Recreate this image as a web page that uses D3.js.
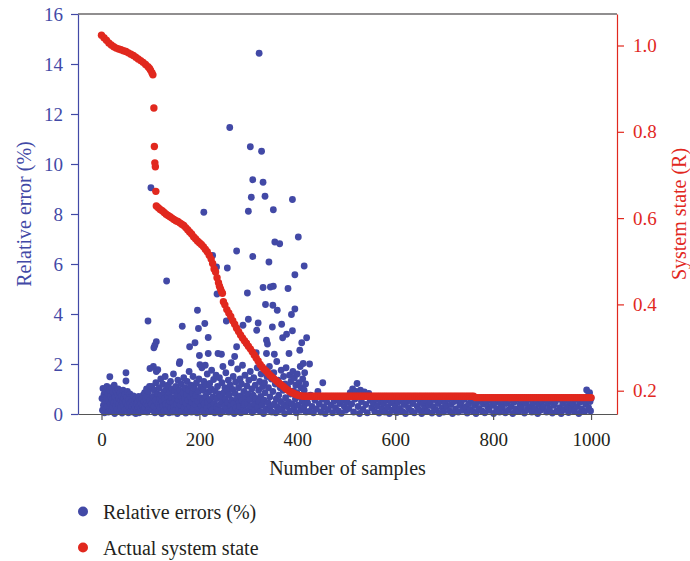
<!DOCTYPE html>
<html>
<head>
<meta charset="utf-8">
<script src="https://cdn.jsdelivr.net/npm/d3@7"></script>
<style>
  body { margin: 0; background: #fff; }
  text { font-family: "Liberation Serif", "DejaVu Serif", serif; }
</style>
</head>
<body>
<script>
const Width = 690;
const Height = 561;

const blue = '#4249a6';
const red = '#e1281e';
const ink = '#231f20';

// axis ticks
const xTicks = [0, 200, 400, 600, 800, 1000];
const errorTicks = [0, 2, 4, 6, 8, 10, 12, 14, 16];
const stateTicks = [0.2, 0.4, 0.6, 0.8, 1.0];
const legendLabels = ['Relative errors (%)', 'Actual system state'];

// relative errors (%), [sample, value]
const errorsEarly = [
  [1,0.62],[2,0.15],[3,1.02],[4,0.35],[5,0.78],[6,0.05],[7,0.48],[8,0.9],[9,0.22],[10,0.65],
  [11,1.1],[12,0.3],[13,0.82],[14,0.08],[15,0.55],[16,0.95],[17,1.49],[18,0.4],[19,0.7],[20,0.12],
  [21,1.05],[22,0.58],[23,0.28],[24,0.88],[25,0.45],[26,1.15],[27,0.02],[28,0.68],[29,0.33],[30,0.92],
  [31,0.5],[32,0.18],[33,0.75],[34,1.0],[35,0.38],[36,0.6],[37,0.1],[38,0.85],[39,0.26],[40,0.55],
  [41,0.72],[42,0.04],[43,0.42],[44,0.95],[45,0.3],[46,0.62],[47,0.15],[48,0.78],[49,0.48],[50,1.65],
  [50,1.32],[51,0.2],[52,0.68],[53,0.9],[54,0.35],[55,0.05],[56,0.58],[57,0.25],[58,0.8],[59,0.42],
  [60,0.12],[61,0.65],[62,0.3],[63,0.5],[64,0.08],[65,0.72],[66,0.38],[67,0.18],[68,0.55],[69,0.28],
  [70,0.02],[71,0.62],[72,0.4],[73,0.15],[74,0.48],[75,0.25],[76,0.7],[77,0.05],[78,0.35],[79,0.55],
  [80,0.2],[81,0.42],[82,0.1],[83,0.6],[84,0.3],[85,0.75],[86,0.15],[87,0.5],[88,0.85],[89,0.25],
  [90,0.62],[91,0.4],[92,1.0],[93,0.08],[94,0.7],[95,0.35],[96,0.9],[97,0.2],[98,1.1],[99,0.55],[100,0.3]
];

const errorsMid = [
  [102,0.4],[103,1.1],[104,0.15],[105,0.7],[106,1.9],[107,0.3],[108,0.95],[109,0.05],[110,0.55],[111,1.25],
  [113,0.2],[114,0.8],[115,1.77],[116,0.42],[117,0.1],[118,1.05],[119,0.6],[120,0.25],[121,1.4],[122,0.75],
  [123,0.02],[124,0.5],[125,1.2],[126,0.32],[127,0.88],[128,0.12],[129,0.62],[130,1.5],[131,0.4],[132,0.98],
  [134,0.18],[135,0.7],[136,1.15],[137,0.35],[138,0.05],[139,0.85],[140,0.5],[141,1.3],[142,0.22],[143,0.65],
  [144,1.0],[145,0.08],[146,0.45],[147,1.6],[148,0.28],[149,0.9],[150,0.6],[151,0.15],[152,1.1],[153,0.4],
  [154,0.75],[155,0.02],[156,1.35],[157,0.55],[158,0.2],[160,0.95],[161,0.35],[162,0.7],[163,1.2],[164,0.1],
  [166,0.5],[167,0.85],[168,1.45],[169,0.25],[170,0.62],[171,1.05],[172,0.04],[173,0.42],[174,0.78],[175,1.3],
  [176,0.18],[177,0.55],[178,0.95],[179,1.7],[181,0.3],[182,0.68],[183,1.15],[184,0.08],[185,0.45],[186,0.82],
  [187,1.5],[188,0.22],[189,0.6],[190,1.02],[192,0.38],[193,0.75],[194,1.25],[195,0.05],[197,0.5],[198,0.9],
  [199,1.4],[200,0.2],[202,0.65],[203,1.08],[204,0.32],[205,1.85],[206,0.12],[207,0.55],[208,0.95],[209,1.3],
  [210,0.4],[211,0.02],[213,0.72],[214,1.15],[215,0.25],[216,1.6],[217,0.48],[219,0.88],[220,0.1],[221,1.22],
  [222,0.58],[223,0.3],[224,1.0],[225,1.75],[226,0.15],[228,0.68],[229,1.38],[230,0.42],[231,0.05],[232,0.92],
  [234,1.55],[235,0.28],[236,0.62],[237,1.1],[239,0.18],[240,0.8],[241,1.45],[242,0.38],[243,0.02],[244,0.7],
  [246,1.25],[247,0.5],[248,1.9],[249,0.12],[250,0.85],[251,0.32],[252,1.05],[253,0.6],[254,1.65],[256,0.2],
  [257,0.95],[258,0.45],[259,1.35],[260,0.08],[261,0.75],[263,1.15],[264,0.35],[265,2.05],[266,0.55],[267,0.15],
  [268,0.98],[269,1.5],[270,0.4],[271,0.02],[273,0.82],[274,1.28],[275,0.25],[277,0.6],[278,1.8],[279,0.1],
  [280,1.05],[281,0.48],[282,0.3],[283,1.4],[284,0.72],[285,0.05],[286,1.2],[287,0.52],[288,1.95],[290,0.22],
  [291,0.9],[292,0.38],[293,1.55],[294,0.65],[295,0.12],[297,1.12],[298,0.45],[299,0.8],[301,1.35],[302,0.2],
  [303,0.58],[304,1.7],[305,0.3],[307,1.0],[308,0.06],[310,0.75],[311,1.45],[312,0.4],[313,0.15],[314,1.15],
  [315,0.62],[318,1.85],[319,0.28],[321,0.95],[322,0.5],[323,1.3],[324,0.1],[325,0.7],[326,1.6],[328,0.35],
  [329,1.1],[331,0.02],[332,0.55],[333,1.25],[334,0.85],[336,0.2],[338,1.5],[340,0.45],[341,1.05],[342,0.15],
  [343,1.9],[344,0.68],[346,0.32],[347,1.4],[348,0.08],[350,0.9],[352,1.65],[353,0.4],[355,1.2],[356,0.05],
  [357,0.6],[358,2.1],[359,0.28],[361,1.35],[362,0.75],[363,0.15],[365,1.05],[366,0.5],[367,1.75],[369,0.22],
  [371,0.95],[372,1.5],[373,0.38],[374,0.02],[375,1.2],[376,0.65],[377,1.85],[379,0.3],[380,1.1],[382,0.48],
  [384,1.55],[385,0.12],[386,0.8],[387,1.3],[389,0.4],[391,1.7],[392,0.92],[393,0.2],[394,1.45],[396,0.6],
  [397,1.15],[398,0.05],[399,0.85],[400,1.6],[401,0.35],[403,1.25],[404,0.7],[406,1.9],[407,0.15],[408,1.05],
  [410,0.5],[411,1.4],[413,0.25],[414,0.95],[415,1.65],[416,0.4],[417,1.2],[418,0.08],[420,0.72]
];

const errorsLate = [
  [421,0.45],[424,0.1],[427,0.75],[430,0.3],[433,0.05],[436,0.55],[439,0.2],[442,0.9],[445,0.4],[448,0.08],
  [451,0.6],[454,0.28],[457,0.02],[460,0.48],[463,0.18],[466,0.7],[469,0.35],[472,0.05],[475,0.52],[478,0.25],
  [481,0.62],[484,0.12],[487,0.42],[490,0.03],[493,0.55],[496,0.3],[499,0.15],[502,0.48],[505,0.22],[508,0.85],
  [511,0.4],[513,1.0],[515,0.08],[518,0.6],[520,0.9],[522,1.22],[524,0.3],[527,0.02],[529,0.95],[531,0.5],
  [534,0.18],[537,0.88],[540,0.38],[543,0.05],[546,0.82],[549,0.55],[552,0.25],[555,0.45],[558,0.1],[561,0.58],
  [564,0.32],[567,0.04],[570,0.5],[573,0.2],[576,0.42],[579,0.08],[582,0.55],[585,0.28],[588,0.02],[591,0.45],
  [594,0.15],[597,0.52],[600,0.3],[603,0.06],[606,0.48],[609,0.22],[612,0.58],[615,0.1],[618,0.38],[621,0.02],
  [624,0.5],[627,0.25],[630,0.55],[633,0.12],[636,0.42],[639,0.05],[642,0.6],[645,0.3],[648,0.18],[651,0.5],
  [654,0.02],[657,0.4],[660,0.22],[663,0.55],[666,0.1],[669,0.35],[672,0.48],[675,0.04],[678,0.28],[681,0.58],
  [684,0.15],[687,0.42],[690,0.02],[693,0.52],[696,0.25],[699,0.08],[702,0.45],[705,0.3],[708,0.6],[711,0.12],
  [714,0.38],[717,0.02],[720,0.5],[723,0.2],[726,0.55],[729,0.08],[732,0.35],[735,0.48],[738,0.15],[741,0.6],
  [744,0.28],[747,0.04],[750,0.42],[753,0.18],[756,0.55],[759,0.1],[762,0.35],[765,0.02],[768,0.48],[771,0.22],
  [774,0.58],[777,0.12],[780,0.4],[783,0.05],[786,0.5],[789,0.28],[792,0.15],[795,0.55],[798,0.35],[801,0.02],
  [804,0.45],[807,0.2],[810,0.58],[813,0.08],[816,0.38],[819,0.25],[822,0.5],[825,0.05],[828,0.42],[831,0.15],
  [834,0.55],[837,0.3],[840,0.02],[843,0.48],[846,0.2],[849,0.6],[852,0.1],[855,0.38],[858,0.25],[861,0.52],
  [864,0.04],[867,0.42],[870,0.18],[873,0.58],[876,0.3],[879,0.08],[882,0.45],[885,0.22],[888,0.55],[891,0.02],
  [894,0.38],[897,0.15],[900,0.5],[903,0.28],[906,0.6],[909,0.08],[912,0.42],[915,0.2],[918,0.55],[921,0.04],
  [924,0.35],[927,0.48],[930,0.12],[933,0.6],[936,0.25],[939,0.02],[942,0.45],[945,0.18],[948,0.55],[951,0.3],
  [954,0.06],[957,0.5],[960,0.22],[963,0.4],[966,0.1],[969,0.58],[972,0.3],[975,0.02],[978,0.48],[981,0.2],
  [984,0.55],[987,0.1],[989,0.4],[991,0.96],[993,0.7],[995,0.25],[997,0.85],[998,0.5],[999,0.12],[1000,0.62]
];

const errorOutliers = [
  [322,14.43],[262,11.46],[304,10.69],[327,10.51],[309,9.37],[330,9.27],[306,8.67],[334,8.71],[390,8.58],[351,8.17],
  [300,8.11],[209,8.07],[101,9.05],[402,7.08],[354,6.88],[364,6.81],[276,6.52],[227,6.34],[309,6.3],[342,6.08],
  [257,5.84],[235,5.88],[414,5.92],[395,5.57],[133,5.32],[236,4.8],[330,5.06],[351,5.11],[345,5.08],[381,5.02],
  [298,4.84],[335,4.38],[350,4.35],[359,4.15],[395,4.2],[388,3.98],[196,4.15],[95,3.72],[165,3.51],[198,3.42],
  [211,3.62],[255,3.72],[289,3.55],[300,3.79],[320,3.64],[317,3.35],[349,3.48],[368,3.59],[390,3.33],[378,3.19],
  [370,3.05],[419,3.05],[409,2.85],[218,3.06],[191,2.85],[112,2.89],[107,2.65],[109,2.75],[337,2.95],[339,2.8],
  [276,2.69],[296,2.82],[180,2.69],[238,2.42],[218,2.42],[245,2.39],[272,2.3],[316,2.45],[337,2.42],[353,2.39],
  [383,2.42],[405,2.55],[200,2.34],[159,2.02],[160,2.09],[99,1.82],[112,1.7],[201,1.97],[212,1.95],[412,2.02],
  [425,2.0],[452,1.25]
];

// actual system state (R), [sample, value]
const stateCurve = [
  [0,1.024],[5,1.018],[10,1.012],[15,1.006],[20,1.001],[25,0.997],[30,0.994],[35,0.992],[40,0.990],[45,0.988],
  [50,0.986],[55,0.983],[60,0.980],[65,0.977],[70,0.973],[75,0.969],[80,0.965],[85,0.961],[90,0.956],[95,0.951],
  [98,0.947],[100,0.943],[103,0.937],[105,0.932],
  [107,0.855],[108,0.766],[109,0.728],[110,0.719],[111,0.662],
  [112,0.628],[116,0.624],[120,0.620],[124,0.617],[128,0.613],[132,0.609],[136,0.606],[140,0.603],[144,0.600],[148,0.597],
  [152,0.594],[156,0.592],[160,0.589],[164,0.586],[168,0.583],[172,0.578],[176,0.573],[180,0.568],[184,0.563],[188,0.557],
  [192,0.552],[196,0.547],[200,0.543],[204,0.539],[208,0.534],[212,0.528],[216,0.522],[220,0.514],[224,0.505],[227,0.495],
  [230,0.482],[233,0.475],[236,0.462],[239,0.450],[241,0.442],[243,0.436],[245,0.430],[247,0.426],
  [249,0.406],[252,0.399],[256,0.388],[260,0.380],[264,0.372],[268,0.362],[272,0.354],[276,0.345],[280,0.337],[284,0.329],
  [288,0.322],[292,0.316],[296,0.310],[300,0.303],[304,0.297],[308,0.290],[312,0.283],[316,0.276],[320,0.269],[324,0.261],
  [328,0.255],[332,0.250],[336,0.246],[340,0.241],[344,0.236],[348,0.232],[352,0.228],[356,0.224],[360,0.220],[364,0.216],
  [368,0.213],[372,0.209],[376,0.205],[380,0.202],[384,0.199],[388,0.196],[392,0.194],[396,0.192],[400,0.190],[404,0.189],
  [408,0.188],[412,0.187],
  [416,0.187],[420,0.187],[424,0.187],[428,0.187],[432,0.187],[436,0.187],[440,0.187],[444,0.187],[448,0.187],[452,0.187],
  [456,0.187],[460,0.187],[464,0.187],[468,0.187],[472,0.187],[476,0.187],[480,0.187],[484,0.187],[488,0.187],[492,0.187],
  [496,0.187],[500,0.187],[504,0.187],[508,0.187],[512,0.187],[516,0.187],[520,0.187],[524,0.187],[528,0.187],[532,0.187],
  [536,0.187],[540,0.187],[544,0.187],[548,0.187],[552,0.187],[556,0.187],[560,0.187],[564,0.187],[568,0.187],[572,0.187],
  [576,0.187],[580,0.187],[584,0.187],[588,0.187],[592,0.187],[596,0.187],[600,0.187],[604,0.187],[608,0.187],[612,0.187],
  [616,0.187],[620,0.187],[624,0.187],[628,0.187],[632,0.187],[636,0.187],[640,0.187],[644,0.187],[648,0.187],[652,0.187],
  [656,0.187],[660,0.187],[664,0.187],[668,0.187],[672,0.187],[676,0.187],[680,0.187],[684,0.187],[688,0.187],[692,0.187],
  [696,0.187],[700,0.187],[704,0.187],[708,0.187],[712,0.187],[716,0.187],[720,0.187],[724,0.187],[728,0.187],[732,0.187],
  [736,0.187],[740,0.187],[744,0.187],[748,0.187],[752,0.187],[756,0.187],[760,0.187],
  [764,0.184],[768,0.184],[772,0.184],[776,0.184],[780,0.184],[784,0.184],[788,0.184],[792,0.184],[796,0.184],[800,0.184],
  [804,0.184],[808,0.184],[812,0.184],[816,0.184],[820,0.184],[824,0.184],[828,0.184],[832,0.184],[836,0.184],[840,0.184],
  [844,0.184],[848,0.184],[852,0.184],[856,0.184],[860,0.184],[864,0.184],[868,0.184],[872,0.184],[876,0.184],[880,0.184],
  [884,0.184],[888,0.184],[892,0.184],[896,0.184],[900,0.184],[904,0.184],[908,0.184],[912,0.184],[916,0.184],[920,0.184],
  [924,0.184],[928,0.184],[932,0.184],[936,0.184],[940,0.184],[944,0.184],[948,0.184],[952,0.184],[956,0.184],[960,0.184],
  [964,0.184],[968,0.184],[972,0.184],[976,0.184],[980,0.184],[984,0.184],[988,0.184],[992,0.184],[996,0.184],[1000,0.184]
];

const plot = { left: 78, right: 617, top: 14, bottom: 414 };

const svg = d3.select('body')
  .append('svg')
    .attr('width', Width)
    .attr('height', Height);

const xScale = d3.scaleLinear()
  .domain([-48, 1053])
  .range([plot.left, plot.right]);

const yLeft = d3.scaleLinear()
  .domain([0, 16])
  .range([plot.bottom, plot.top]);

const yRight = d3.scaleLinear()
  .domain([0.146, 1.073])
  .range([plot.bottom, plot.top]);

// top frame line
svg.append('line')
  .attr('x1', plot.left).attr('x2', plot.right)
  .attr('y1', plot.top).attr('y2', plot.top)
  .attr('stroke', ink)
  .attr('stroke-width', 1.2);

// blue points
const errorData = errorsEarly.concat(errorsMid, errorsLate, errorOutliers);
svg.append('g')
  .selectAll('circle')
  .data(errorData)
  .join('circle')
    .attr('cx', d => xScale(d[0]))
    .attr('cy', d => yLeft(d[1]))
    .attr('r', 3.4)
    .attr('fill', blue);

// red points
svg.append('g')
  .selectAll('circle')
  .data(stateCurve)
  .join('circle')
    .attr('cx', d => xScale(d[0]))
    .attr('cy', d => yRight(d[1]))
    .attr('r', 3.7)
    .attr('fill', red);

// bottom axis
const xAxisG = svg.append('g')
  .attr('transform', `translate(0, ${plot.bottom})`)
  .call(d3.axisBottom(xScale)
    .tickValues(xTicks)
    .tickFormat(d3.format('d'))
    .tickSize(6)
    .tickSizeOuter(0)
    .tickPadding(13));
xAxisG.select('.domain').attr('stroke', '#555').attr('stroke-width', 1.2);
xAxisG.selectAll('.tick line').attr('stroke', '#555').attr('stroke-width', 1.2);
xAxisG.selectAll('text')
  .attr('fill', ink)
  .style('font-size', '19px')
  .style('font-family', '"Liberation Serif", serif');

// left axis
const yLeftG = svg.append('g')
  .attr('transform', `translate(${plot.left}, 0)`)
  .call(d3.axisLeft(yLeft)
    .tickValues(errorTicks)
    .tickSize(7)
    .tickSizeOuter(0)
    .tickPadding(8));
yLeftG.select('.domain').attr('stroke', blue).attr('stroke-width', 1.2);
yLeftG.selectAll('.tick line').attr('stroke', blue).attr('stroke-width', 1.2);
yLeftG.selectAll('text')
  .attr('fill', blue)
  .style('font-size', '19px')
  .style('font-family', '"Liberation Serif", serif');

// right axis
const yRightG = svg.append('g')
  .attr('transform', `translate(${plot.right}, 0)`)
  .call(d3.axisRight(yRight)
    .tickValues(stateTicks)
    .tickFormat(d3.format('.1f'))
    .tickSize(7)
    .tickSizeOuter(0)
    .tickPadding(9));
yRightG.select('.domain').attr('stroke', red).attr('stroke-width', 1.2);
yRightG.selectAll('.tick line').attr('stroke', red).attr('stroke-width', 1.2);
yRightG.selectAll('text')
  .attr('fill', red)
  .style('font-size', '19px')
  .style('font-family', '"Liberation Serif", serif');

// axis titles
const midY = (plot.top + plot.bottom) / 2;

svg.append('text')
  .attr('transform', `translate(31, ${midY}) rotate(-90)`)
  .attr('text-anchor', 'middle')
  .attr('fill', blue)
  .style('font-size', '20px')
  .text('Relative error (%)');

svg.append('text')
  .attr('transform', `translate(686, ${midY}) rotate(-90)`)
  .attr('text-anchor', 'middle')
  .attr('fill', red)
  .style('font-size', '20px')
  .text('System state (R)');

svg.append('text')
  .attr('x', (plot.left + plot.right) / 2)
  .attr('y', 475)
  .attr('text-anchor', 'middle')
  .attr('fill', ink)
  .style('font-size', '20px')
  .text('Number of samples');

// legend
const legendColors = [blue, red];
const legend = svg.append('g')
  .selectAll('g')
  .data(legendLabels)
  .join('g')
    .attr('transform', (d, i) => `translate(83, ${511.5 + i * 36})`);

legend.append('circle')
  .attr('r', 5)
  .attr('fill', (d, i) => legendColors[i]);

legend.append('text')
  .attr('x', 20)
  .attr('y', 7)
  .attr('fill', ink)
  .style('font-size', '20px')
  .text(d => d);
</script>
</body>
</html>
